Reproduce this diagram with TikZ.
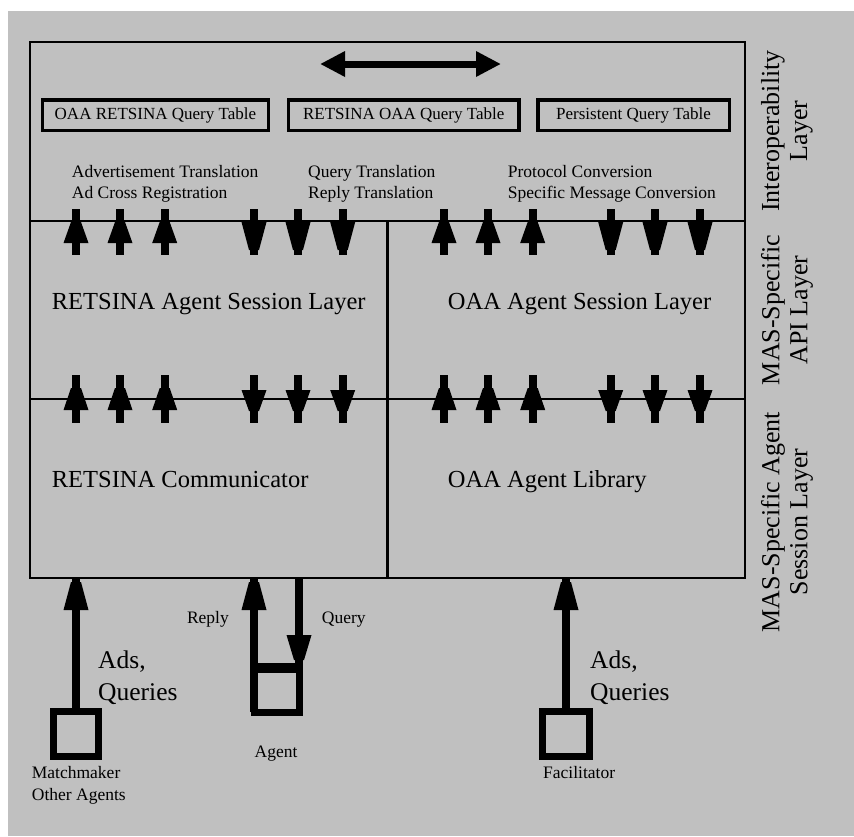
\documentclass[tikz,border=0pt]{standalone}
\usepackage{fontspec}
\setmainfont{Liberation Serif}
\usetikzlibrary{arrows.meta,calc}
\definecolor{bg}{RGB}{192,192,192}
\newcommand\arrhead[3]{\fill (#1-12.5,#3) -- (#1-5,#2) -- (#1+5,#2) -- (#1+12.5,#3) -- cycle;}
\newcommand\xarrow[5]{\draw[line width=8pt] (#1,#2) -- (#1,#3); \arrhead{#1}{#4}{#5}}
\tikzset{
  small/.style={font=\fontsize{17.5}{21}\selectfont, inner sep=0pt, anchor=base west},
  big/.style={font=\fontsize{24.5}{30}\selectfont, inner sep=0pt, anchor=base west},
  side/.style={font=\fontsize{26}{28}\selectfont, rotate=90, align=center, inner sep=0pt},
  tablebox/.style={draw, line width=3.5pt, font=\fontsize{17}{20}\selectfont, inner sep=0pt, minimum height=30.5pt},
  agentbox/.style={draw, line width=7pt, inner sep=0pt, minimum width=45pt, minimum height=45pt},
  frame/.style={line width=2.5pt},
  shaft/.style={line width=8pt},
}
\begin{document}
\begin{tikzpicture}[x=1pt,y=-1pt]
\useasboundingbox (0,0) rectangle (854,836);
\fill[white] (0,0) rectangle (854,836);
\fill[bg] (8,11) rectangle (854,836);

% main frame
\coordinate (tl) at (30,42);
\coordinate (br) at (745,578);
\coordinate (l1) at (30,221);
\coordinate (l2) at (30,399);
\coordinate (mid) at (387.7,221);
\draw[frame] (tl) rectangle (br);
\draw[frame] (l1) -- (l1 -| br);
\draw[frame] (l2) -- (l2 -| br);
\draw[frame] (mid) -- (mid |- br);

% top double arrow
\coordinate (da) at (320,64);
\coordinate (db) at (501,64);
\draw[line width=7pt, {Triangle[width=24pt,length=25pt]}-{Triangle[width=24pt,length=25pt]}] (da) -- (db);

% tables
\node[tablebox, minimum width=225.7pt] (t1) at (155.4,115) {OAA RETSINA Query Table};
\node[tablebox, minimum width=230.5pt] (t2) at (403.7,115) {RETSINA OAA Query Table};
\node[tablebox, minimum width=191.5pt] (t3) at (633.5,115) {Persistent Query Table};

% translation labels
\node[small] (a1) at (71.7,177) {Advertisement Translation};
\node[small] (a2) at (71.7,198) {Ad Cross Registration};
\node[small] (q1) at (308,177) {Query Translation};
\node[small] (q2) at (308,198) {Reply Translation};
\node[small] (p1) at (507.7,177) {Protocol Conversion};
\node[small] (p2) at (507.7,198) {Specific Message Conversion};

% crossing arrows row 1
\foreach \x in {76,120,164.7,444,488,532.7} {\xarrow{\x}{209}{255}{222}{243}}
\foreach \x in {254,298,342.7,610.7,655,700} {\xarrow{\x}{209}{255}{250}{222}}
% crossing arrows row 2
\foreach \x in {76,120,164.7,444,488,532.7} {\xarrow{\x}{375}{423}{388}{410}}
\foreach \x in {254,298,342.7,610.7,655,700} {\xarrow{\x}{375}{423}{411}{390}}

% layer labels
\node[big] (rs) at (51.7,309) {RETSINA Agent Session Layer};
\node[big] (os) at (447.7,309) {OAA Agent Session Layer};
\node[big] (rc) at (51.7,487) {RETSINA Communicator};
\node[big] (ol) at (447.7,487) {OAA Agent Library};

% side labels
\node[side] (s1) at (787,131) {Interoperability\\Layer};
\node[side] (s2) at (787,310) {MAS-Specific\\API Layer};
\node[side] (s3) at (787,522) {MAS-Specific Agent\\Session Layer};

% bottom agents
\coordinate (bl) at (30,578);
\node[agentbox] (mm) at (76,734) {};
\node[agentbox, minimum width=47pt] (fa) at (566,734) {};
\node[agentbox, minimum height=46.5pt] (ag) at (276.5,689.25) {};
\fill (ag.north west) rectangle ($(ag.north east)+(0,10)$);
\coordinate (agL) at (254,712);
\coordinate (agR) at (299,664);

\draw[shaft] (mm.north) -- (mm.north |- bl);
\arrhead{76}{582}{610}
\draw[shaft] (fa.north) -- (fa.north |- bl);
\arrhead{566}{582}{610}
\draw[shaft] (agL) -- (agL |- bl);
\arrhead{254}{582}{610}
\draw[shaft] (agR) -- (agR |- bl);
\arrhead{299}{660}{635}

\node[small] (mm1) at (31.7,778) {Matchmaker};
\node[small] (mm2) at (31.7,800) {Other Agents};
\node[small] (fl) at (543,778) {Facilitator};
\node[small, anchor=base] (agl) at (276,757) {Agent};
\node[small, anchor=base east] (rp) at (229,623) {Reply};
\node[small] (qy) at (321.7,623) {Query};
\node[big, font=\fontsize{25.5}{30}\selectfont] (ad1) at (98,668) {Ads,};
\node[big, font=\fontsize{25.5}{30}\selectfont] (ad2) at (98,700) {Queries};
\node[big, font=\fontsize{25.5}{30}\selectfont] (ad3) at (590,668) {Ads,};
\node[big, font=\fontsize{25.5}{30}\selectfont] (ad4) at (590,700) {Queries};
\end{tikzpicture}
\end{document}
